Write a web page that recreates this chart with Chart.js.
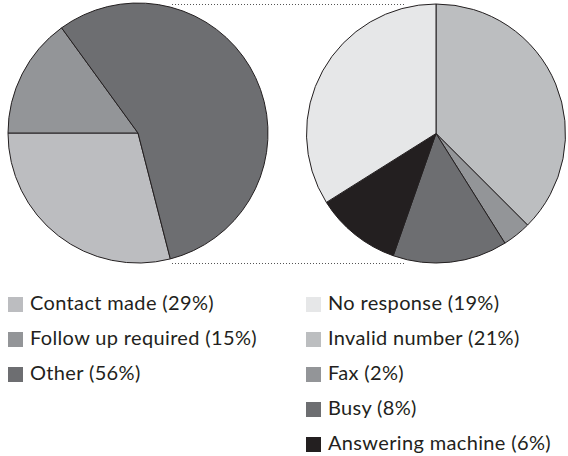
<!DOCTYPE html>
<html>
<head>
<meta charset="utf-8">
<script src="https://cdn.jsdelivr.net/npm/chart.js@4/dist/chart.umd.min.js"></script>
<style>
  html, body { margin: 0; padding: 0; background: #ffffff; }
  #wrap { position: relative; width: 568px; height: 456px; overflow: hidden; }
  #wrap canvas { position: absolute; left: 0; top: 0; }
  .legend { position: absolute; top: 297px; font-family: Lato, "Open Sans", sans-serif; font-size: 20px; letter-spacing: 0.35px; color: #231f20; }
  .legend .item { position: relative; height: 35px; white-space: nowrap; }
  .legend .box { position: absolute; left: 0; top: 0; width: 15px; height: 15px; }
  .legend .txt { position: absolute; left: 22px; top: -7px; line-height: 24px; }
</style>
</head>
<body>
<div id="wrap">
  <canvas id="mainPie" width="568" height="270"></canvas>
  <canvas id="detailPie" width="568" height="270"></canvas>
  <div class="legend" id="legendMain" style="left:8px"></div>
  <div class="legend" id="legendDetail" style="left:306px"></div>
</div>
<script>
// Call outcomes (percent of all calls)
const mainLabels = ['Contact made', 'Follow up required', 'Other'];
const mainValues = [29, 15, 56];
const mainColors = ['#bcbdc0', '#939598', '#6d6e71'];

// Breakdown of "Other"
const otherLabels = ['No response', 'Invalid number', 'Fax', 'Busy', 'Answering machine'];
const otherValues = [19, 21, 2, 8, 6];
const otherColors = ['#e6e7e8', '#bcbec0', '#939598', '#6d6e71', '#231f20'];

// Slice drawing order for the detail pie (clockwise from 12 o'clock)
const otherOrder = [1, 2, 3, 4, 0];

const edge = '#231f20';

function buildLegend(id, labels, values, colors) {
  const host = document.getElementById(id);
  labels.forEach((lab, i) => {
    const row = document.createElement('div');
    row.className = 'item';
    const box = document.createElement('span');
    box.className = 'box';
    box.style.background = colors[i];
    const txt = document.createElement('span');
    txt.className = 'txt';
    txt.textContent = lab + ' (' + values[i] + '%)';
    row.appendChild(box);
    row.appendChild(txt);
    host.appendChild(row);
  });
}
buildLegend('legendMain', mainLabels, mainValues, mainColors);
buildLegend('legendDetail', otherLabels, otherValues, otherColors);

const baseOptions = {
  responsive: false,
  animation: false,
  events: [],
  plugins: { legend: { display: false }, tooltip: { enabled: false } }
};

// Left pie: "Contact made" runs round to 9 o'clock
const mainChart = new Chart(document.getElementById('mainPie'), {
  type: 'pie',
  data: {
    labels: mainLabels,
    datasets: [{
      data: mainValues,
      backgroundColor: mainColors,
      borderColor: edge,
      borderWidth: 1,
      radius: 130
    }]
  },
  options: Object.assign({}, baseOptions, {
    rotation: 360 * (mainValues[1] + mainValues[2]) / 100 - 90,
    layout: { padding: { left: 0, right: 292, top: 0, bottom: 4 } }
  })
});

// Dotted bracket joining the two pies
const connector = {
  id: 'connector',
  afterDraw(chart) {
    const left = mainChart.getDatasetMeta(0).data[0];
    const right = chart.getDatasetMeta(0).data[0];
    if (!left || !right) return;
    const ctx = chart.ctx;
    const x0 = left.x + 34;
    const x1 = right.x - 33;
    ctx.save();
    ctx.fillStyle = '#555555';
    [right.y - right.outerRadius, right.y + right.outerRadius].forEach(y => {
      for (let x = x0; x <= x1; x += 3) {
        ctx.fillRect(Math.round(x), Math.round(y), 1, 1);
      }
    });
    ctx.restore();
  }
};

new Chart(document.getElementById('detailPie'), {
  type: 'pie',
  data: {
    labels: otherOrder.map(i => otherLabels[i]),
    datasets: [{
      data: otherOrder.map(i => otherValues[i]),
      backgroundColor: otherOrder.map(i => otherColors[i]),
      borderColor: edge,
      borderWidth: 1,
      radius: 129.5
    }]
  },
  options: Object.assign({}, baseOptions, {
    rotation: 0,
    layout: { padding: { left: 306, right: 2, top: 0, bottom: 3 } }
  }),
  plugins: [connector]
});
</script>
</body>
</html>
